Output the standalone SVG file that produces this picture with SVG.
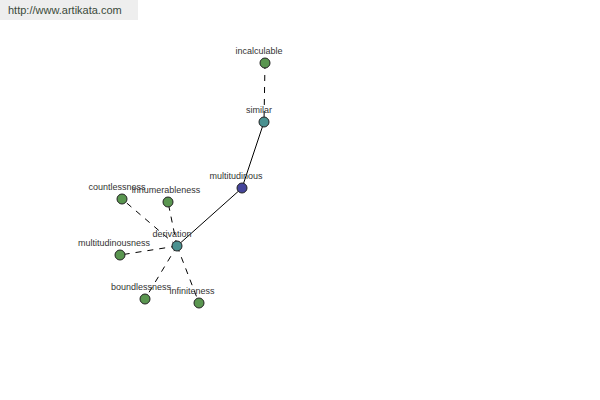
<svg xmlns="http://www.w3.org/2000/svg" width="600" height="400" viewBox="0 0 600 400">
<style>
text{font-family:"Liberation Sans",Arial,sans-serif;font-size:9px;fill:#333;text-anchor:middle}
.n{stroke:#222;stroke-width:1}
.g{fill:#5a9650}.t{fill:#4a9190}.b{fill:#45459a}
.e{stroke:#000;stroke-width:1;fill:none}
.d{stroke-dasharray:6,6}
</style>
<rect x="0" y="0" width="138" height="20" fill="#eeeeee"/>
<text x="8" y="14" style="text-anchor:start;font-size:11px;fill:#3a4a3a">http://www.artikata.com</text>
<g id="edges">
<line class="e d" x1="265" y1="63" x2="264" y2="122"/>
<line class="e" x1="264" y1="122" x2="242" y2="188"/>
<line class="e" x1="242" y1="188" x2="177" y2="246"/>
<line class="e d" x1="177" y1="246" x2="122" y2="199"/>
<line class="e d" x1="177" y1="246" x2="168" y2="202"/>
<line class="e d" x1="177" y1="246" x2="120" y2="255"/>
<line class="e d" x1="177" y1="246" x2="145" y2="299"/>
<line class="e d" x1="177" y1="246" x2="199" y2="303"/>
</g>
<g id="incalculable"><circle class="n g" cx="265" cy="63" r="5"/><text x="259" y="54">incalculable</text></g>
<g id="similar"><circle class="n t" cx="264" cy="122" r="5"/><text x="259" y="113">similar</text></g>
<g id="multitudinous"><circle class="n b" cx="242" cy="188" r="5"/><text x="236" y="179">multitudinous</text></g>
<g id="derivation"><circle class="n t" cx="177" cy="246" r="5"/><text x="172" y="237">derivation</text></g>
<g id="countlessness"><circle class="n g" cx="122" cy="199" r="5"/><text x="117" y="190">countlessness</text></g>
<g id="innumerableness"><circle class="n g" cx="168" cy="202" r="5"/><text x="166" y="193">innumerableness</text></g>
<g id="multitudinousness"><circle class="n g" cx="120" cy="255" r="5"/><text x="114" y="246">multitudinousness</text></g>
<g id="boundlessness"><circle class="n g" cx="145" cy="299" r="5"/><text x="141" y="290">boundlessness</text></g>
<g id="infiniteness"><circle class="n g" cx="199" cy="303" r="5"/><text x="192" y="294">infiniteness</text></g>
</svg>
